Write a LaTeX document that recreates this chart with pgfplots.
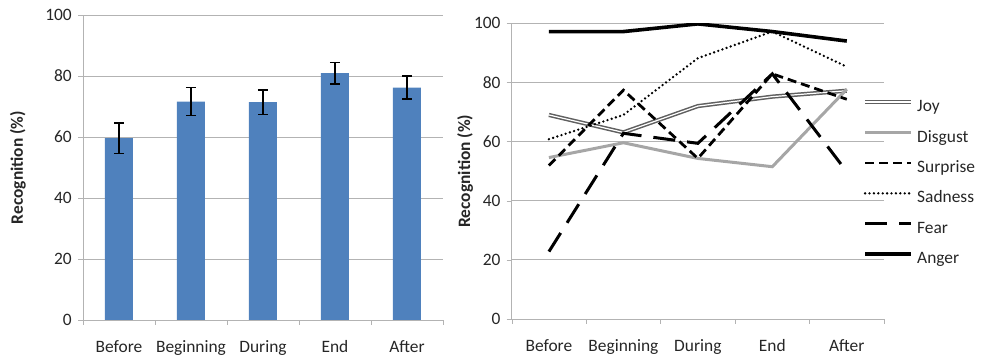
\documentclass[border=0pt]{standalone}
\usepackage{fontspec}
\setmainfont{Carlito}
\usepackage{pgfplots}
\usepackage{pgfplotstable}
\pgfplotsset{compat=1.18}
\definecolor{barblue}{HTML}{4F81BD}
\definecolor{gridgray}{HTML}{B3B3B3}
\definecolor{joygray}{HTML}{5F5F5F}
\definecolor{disgray}{HTML}{A6A6A6}
\pgfplotstableread{
x y e
0 59.6 5.0
1 71.6 4.6
2 71.4 4.0
3 80.9 3.5
4 76.2 3.7
}\bars
\pgfplotstableread{
x joy disgust surprise sadness fear anger
0 69.0 54.6 51.9 60.8 22.8 97.2
1 63.1 59.6 77.4 69.0 62.8 97.2
2 72.0 54.3 54.3 88.2 59.4 99.8
3 75.2 51.5 82.9 97.2 82.9 97.2
4 77.2 77.7 74.3 85.3 49.8 94.0
}\lines
\begin{document}
\fontsize{8.7}{10.4}\selectfont
\begin{tikzpicture}
\useasboundingbox (0,0) rectangle (492pt,181pt);
\pgfplotsset{
 common/.style={
  scale only axis, xmin=-0.5, xmax=4.5, ymin=0, ymax=100,
  axis x line=bottom, axis y line=left, axis line style={gridgray, -},
  xtick={0,...,4}, xticklabels={Before,Beginning,During,End,After},
  minor xtick={-0.5,0.5,...,4.5},
  ytick={0,20,...,100},
  ymajorgrids, grid style={gridgray},
  major x tick style={draw=none},
  minor x tick style={gridgray},
  y tick style={gridgray},
  tick align=outside, major tick length=2.5pt, minor tick length=2.5pt,
  /pgf/number format/assume math mode=true,
  tick label style={font=\fontsize{8.7}{10.4}\selectfont, color=black!85},
  label style={font=\fontsize{8.7}{10.4}\selectfont\bfseries, color=black!85},
  ylabel={Recognition (\%)},
  xticklabel style={anchor=base, yshift=-14pt},
 }
}
\begin{axis}[common,
  at={(41.5pt,21pt)}, anchor=south west, width=180pt, height=152.5pt,
  ylabel style={at={(axis description cs:-0.1806,0.5)}, anchor=center},
]
\addplot[ybar, bar width=14pt, fill=barblue, draw=none,
  error bars/.cd, y dir=both, y explicit,
  error bar style={black, line width=0.8pt},
  error mark options={rotate=90, mark size=2.5pt, line width=0.8pt, black}]
  table[x=x, y=y, y error=e]{\bars};
\end{axis}
\begin{axis}[common,
  at={(255.85pt,21.5pt)}, anchor=south west, width=186.15pt, height=147.85pt,
  ylabel style={at={(axis description cs:-0.1254,0.5)}, anchor=center},
  legend style={at={(0.9436,0.742)}, anchor=north west, draw=none, fill=none,
    inner sep=0pt, outer sep=0pt, row sep=7.23pt,
    nodes={inner sep=0pt, text height=6pt, text depth=2pt, font=\fontsize{8.7}{10.4}\selectfont, text=black!85},
    /tikz/every odd column/.append style={column sep=2pt}},
  legend cell align=left,
  legend image code/.code={\draw[#1] (0pt,2.8pt) -- (23pt,2.8pt);},
]
\addplot[joygray, line width=0.75pt, double=white, double distance=0.6pt] table[x=x, y=joy]{\lines};
\addlegendentry{Joy}
\addplot[disgray, line width=1.5pt] table[x=x, y=disgust]{\lines};
\addlegendentry{Disgust}
\addplot[black, line width=1.4pt, dash pattern=on 4.5pt off 2.5pt] table[x=x, y=surprise]{\lines};
\addlegendentry{Surprise}
\addplot[black, line width=1.3pt, line cap=round, dash pattern=on 0pt off 2.2pt] table[x=x, y=sadness]{\lines};
\addlegendentry{Sadness}
\addplot[black, line width=1.5pt, dash pattern=on 11pt off 6pt] table[x=x, y=fear]{\lines};
\addlegendentry{Fear}
\addplot[black, line width=1.8pt] table[x=x, y=anger]{\lines};
\addlegendentry{Anger}
\end{axis}
\end{tikzpicture}
\end{document}
